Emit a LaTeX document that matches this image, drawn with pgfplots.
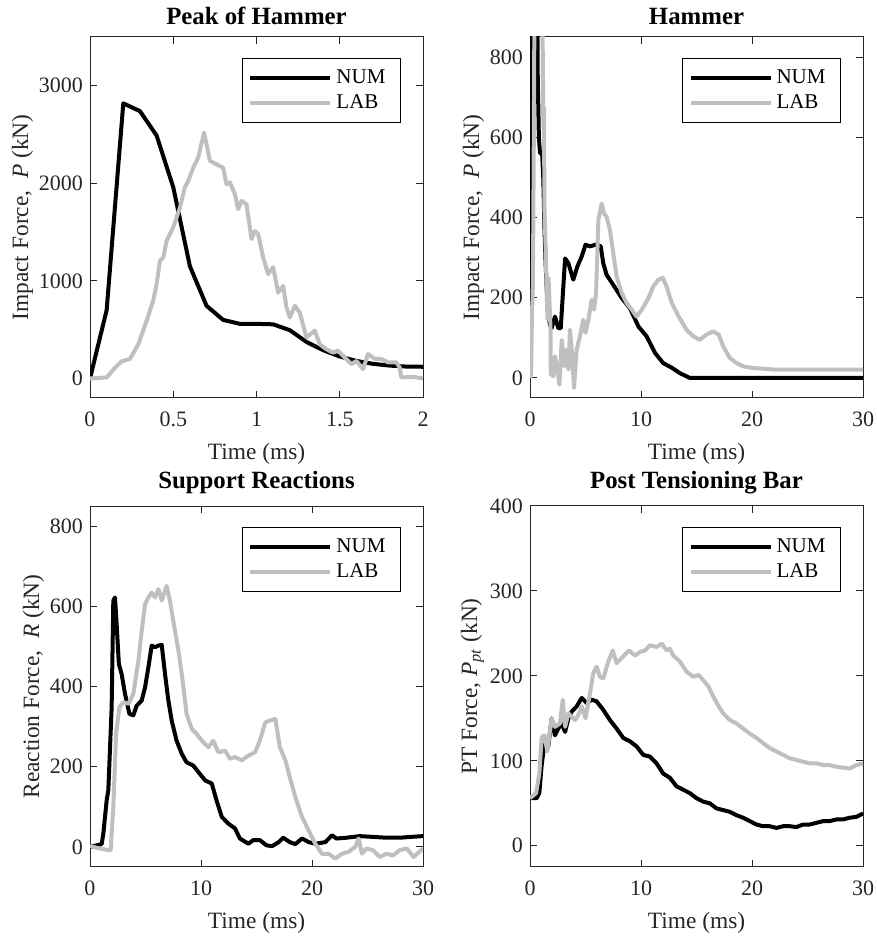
\documentclass[border=0pt]{standalone}
\usepackage{fontspec}
\setmainfont{Liberation Serif}
\usepackage{pgfplots}
\pgfplotsset{compat=1.18}
\definecolor{labgray}{RGB}{191,191,191}
\definecolor{axgray}{RGB}{38,38,38}
\pgfplotsset{
  myaxis/.style={
    scale only axis, width=166.5pt, height=180.5pt,
    axis line style={axgray, line width=0.5pt},
    tick style={axgray, line width=0.5pt},
    major tick length=3.5pt,
    tick align=inside,
    ticklabel style={font=\fontsize{11}{13}\selectfont, text=axgray},
    xticklabel style={yshift=-3.5pt},
    label style={font=\fontsize{11.7}{13}\selectfont, text=axgray},
    xlabel style={yshift=-1.5pt},
    ylabel shift=-4pt,
    title style={font=\bfseries\fontsize{12.4}{14}\selectfont, yshift=-3.5pt},
    /pgf/number format/assume math mode=true,
    /pgf/number format/1000 sep={},
    scaled ticks=false,
    xlabel={Time (ms)},
    legend style={at={(1,1)}, anchor=north east, xshift=-11pt, yshift=-10.5pt, draw=black, line width=0.5pt, font=\fontsize{10.5}{12}\selectfont, inner ysep=3.5pt, inner xsep=3pt},
    legend cell align=left,
    legend image code/.code={\draw[##1] (0pt,0pt) -- (40pt,0pt);},
  },
  numline/.style={black, line width=2pt, line join=round},
  labline/.style={labgray, line width=2pt, line join=round},
}
\begin{document}
\begin{tikzpicture}
\path[use as bounding box] (0,0) rectangle (438.5pt,468pt);
% ---------- Peak of Hammer
\begin{axis}[myaxis, at={(45pt,269pt)}, anchor=south west,
  title={Peak of Hammer},
  xmin=0, xmax=2, ymin=-200, ymax=3500,
  xtick={0,0.5,1,1.5,2}, ytick={0,1000,2000,3000},
  ylabel={Impact Force,\ \ \textit{P} (kN)}]
\addplot[numline] coordinates {(0,0) (0.1,700) (0.2,2820) (0.3,2740) (0.4,2490) (0.5,1960) (0.6,1150) (0.7,745) (0.8,600) (0.9,560) (1.0,560) (1.1,555) (1.2,495) (1.3,375) (1.4,290) (1.5,225) (1.6,180) (1.7,150) (1.8,132) (1.9,122) (2.0,120)};
\addlegendentry{NUM\hspace*{2.5pt}}
\addplot[labline] coordinates {(0,0) (0.1,10) (0.15,110) (0.19,175) (0.24,200) (0.29,350) (0.34,590) (0.38,800) (0.40,965) (0.42,1205) (0.44,1240) (0.46,1410) (0.50,1550) (0.54,1750) (0.57,1960) (0.59,2025) (0.62,2160) (0.65,2265) (0.685,2520) (0.70,2400) (0.72,2230) (0.76,2195) (0.80,2160) (0.82,1990) (0.84,2010) (0.87,1890) (0.89,1735) (0.91,1820) (0.94,1785) (0.97,1430) (0.99,1510) (1.01,1480) (1.04,1240) (1.07,1070) (1.10,1140) (1.13,880) (1.16,950) (1.18,730) (1.20,625) (1.23,745) (1.26,675) (1.30,420) (1.35,490) (1.38,350) (1.42,300) (1.46,265) (1.49,285) (1.53,215) (1.57,147) (1.60,180) (1.64,95) (1.67,250) (1.71,200) (1.75,200) (1.79,165) (1.84,165) (1.86,113) (1.87,10) (1.94,17) (2.0,0)};
\addlegendentry{LAB}
\end{axis}
% ---------- Hammer
\begin{axis}[myaxis, at={(265pt,269pt)}, anchor=south west,
  title={Hammer},
  xmin=0, xmax=30, ymin=-50, ymax=850,
  xtick={0,10,20,30}, ytick={0,200,400,600,800},
  ylabel={Impact Force,\ \ \textit{P} (kN)}]
\addplot[numline] coordinates {(0,0) (0.1,700) (0.2,2820) (0.3,2740) (0.4,2490) (0.5,1960) (0.6,1150) (0.7,745) (0.8,600) (0.9,560) (1.0,560) (1.1,555) (1.2,495) (1.3,375) (1.4,290) (1.5,225) (1.6,180) (1.7,150) (1.8,132) (1.95,124) (2.25,153) (2.55,124) (2.77,124) (3.16,298) (3.46,286) (3.9,245) (4.27,278) (4.66,303) (5.0,332) (5.4,328) (6.0,333) (6.37,328) (6.6,286) (6.9,257) (7.5,232) (8.27,199) (9.0,174) (9.77,128) (10.5,104) (11.27,62) (12.0,37) (12.8,25) (13.5,12) (14.4,0) (30,0)};
\addlegendentry{NUM\hspace*{2.5pt}}
\addplot[labline] coordinates {(0,0) (0.1,10) (0.15,110) (0.19,175) (0.24,200) (0.29,350) (0.34,590) (0.38,800) (0.40,965) (0.42,1205) (0.46,1410) (0.54,1750) (0.62,2160) (0.685,2520) (0.76,2195) (0.84,2010) (0.91,1820) (0.97,1430) (1.01,1480) (1.07,1070) (1.13,880) (1.20,625) (1.26,675) (1.30,420) (1.38,350) (1.46,265) (1.57,147) (1.67,250) (1.79,165) (1.86,113) (1.87,10) (2.1,4) (2.25,54) (2.46,21) (2.65,-17) (2.86,95) (3.07,29) (3.25,70) (3.46,21) (3.6,120) (3.76,70) (3.97,-25) (4.2,70) (4.5,104) (4.8,145) (5.0,112) (5.26,145) (5.56,195) (5.77,170) (5.95,211) (6.16,394) (6.46,435) (6.67,410) (6.9,402) (7.2,369) (7.5,311) (7.8,253) (8.27,211) (8.7,187) (9.17,170) (9.6,153) (10.07,170) (10.67,199) (11.1,228) (11.57,245) (11.96,250) (12.3,228) (12.77,187) (13.4,153) (14.1,120) (14.7,104) (15.3,95) (15.9,108) (16.5,116) (17.0,108) (17.4,79) (18.0,50) (18.6,37) (19.2,29) (20,25) (22,21) (25,21) (30,21)};
\addlegendentry{LAB}
\end{axis}
% ---------- Support Reactions
\begin{axis}[myaxis, at={(45pt,34.5pt)}, anchor=south west,
  title={Support Reactions},
  xmin=0, xmax=30, ymin=-50, ymax=850,
  xtick={0,10,20,30}, ytick={0,200,400,600,800},
  ylabel={Reaction Force,\ \ \textit{R} (kN)}]
\addplot[numline] coordinates {(0,0) (0.6,4) (1.05,7) (1.2,33) (1.5,116) (1.65,141) (1.95,348) (2.1,614) (2.25,622) (2.4,556) (2.6,456) (2.85,431) (3.16,381) (3.55,332) (3.9,328) (4.2,352) (4.66,365) (4.96,398) (5.26,448) (5.56,502) (5.86,498) (6.16,502) (6.46,504) (6.76,431) (7.06,365) (7.36,315) (7.8,265) (8.27,232) (8.7,211) (9.3,203) (9.9,182) (10.37,166) (10.97,158) (11.4,116) (11.87,75) (12.47,58) (13.07,46) (13.5,21) (14.28,8) (14.7,17) (15.3,17) (15.9,4) (16.4,2) (17.0,12) (17.4,23) (18.0,12) (18.5,7) (19.1,21) (19.7,12) (20.3,8) (21.2,12) (21.8,29) (22.2,21) (23.1,23) (24.3,27) (25.5,25) (26.7,23) (27.9,23) (28.9,25) (30,27)};
\addlegendentry{NUM\hspace*{2.5pt}}
\addplot[labline] coordinates {(0,2) (0.9,-4) (1.5,-7) (1.86,-8) (2.1,100) (2.35,282) (2.65,348) (3.0,361) (3.46,357) (3.9,381) (4.36,464) (4.66,539) (4.96,605) (5.26,622) (5.56,634) (5.86,622) (6.16,643) (6.46,614) (6.9,651) (7.2,614) (7.5,564) (7.97,489) (8.27,431) (8.7,332) (9.17,294) (9.6,282) (10.2,261) (10.67,249) (11.1,265) (11.57,236) (12.17,240) (12.6,220) (13.07,224) (13.67,216) (14.28,228) (14.88,236) (15.3,265) (15.8,311) (16.2,315) (16.7,319) (17.1,249) (17.6,216) (18.0,174) (18.5,124) (19.1,75) (19.7,41) (20.3,8) (20.9,-17) (21.5,-17) (22.1,-29) (22.7,-17) (23.3,-12) (23.9,0) (24.2,21) (24.5,-17) (24.9,-4) (25.5,-8) (26.1,-25) (26.7,-17) (27.3,-21) (27.9,-8) (28.55,-4) (29.15,-25) (30,-4)};
\addlegendentry{LAB}
\end{axis}
% ---------- Post Tensioning Bar
\begin{axis}[myaxis, at={(265pt,34.5pt)}, anchor=south west,
  title={Post Tensioning Bar},
  xmin=0, xmax=30, ymin=-25, ymax=400,
  xtick={0,10,20,30}, ytick={0,100,200,300,400},
  ylabel={PT Force, \textit{P}\textsubscript{\textit{pt}} (kN)}]
\addplot[numline] coordinates {(0,56) (0.6,56) (0.84,62) (1.05,95) (1.35,125) (1.65,117) (1.95,150) (2.25,130) (2.55,138) (2.85,144) (3.16,134) (3.46,150) (3.76,158) (4.2,164) (4.66,174) (5.1,168) (5.56,172) (6.0,170) (6.6,160) (7.2,148) (7.8,138) (8.4,127) (9.0,123) (9.6,117) (10.2,107) (10.8,105) (11.4,97) (12.0,85) (12.6,80) (13.2,70) (13.8,66) (14.4,62) (15.0,56) (15.6,52) (16.2,50) (16.8,44) (17.4,42) (18.0,40) (18.6,36) (19.2,33) (19.8,29) (20.4,25) (21.0,23) (21.6,23) (22.2,21) (22.8,23) (23.4,23) (24.0,22) (24.6,25) (25.2,25) (25.8,27) (26.4,29) (27.0,29) (27.6,31) (28.2,31) (28.8,33) (29.4,34) (30,38)};
\addlegendentry{NUM\hspace*{2.5pt}}
\addplot[labline] coordinates {(0,56) (0.55,62) (0.84,85) (1.05,128) (1.3,130) (1.56,111) (1.95,150) (2.25,140) (2.7,144) (2.95,172) (3.16,140) (3.46,156) (3.76,152) (4.06,148) (4.36,154) (4.66,164) (5.0,150) (5.4,179) (5.7,203) (6.0,211) (6.3,199) (6.6,197) (7.06,217) (7.45,230) (7.8,215) (8.27,221) (8.9,230) (9.47,224) (9.9,228) (10.37,230) (10.8,236) (11.4,234) (11.87,238) (12.3,230) (12.6,232) (12.9,224) (13.5,217) (14.1,205) (14.7,199) (15.2,201) (15.6,195) (16.1,187) (16.5,176) (17.0,164) (17.4,156) (18.0,148) (18.6,144) (19.2,138) (19.8,132) (20.4,127) (21.0,121) (21.6,115) (22.2,111) (22.8,107) (23.4,103) (24.0,101) (24.6,99) (25.2,97) (25.8,97) (26.4,95) (27.0,95) (27.6,93) (28.2,92) (28.8,91) (29.4,95) (30,97)};
\addlegendentry{LAB}
\end{axis}
\end{tikzpicture}
\end{document}
